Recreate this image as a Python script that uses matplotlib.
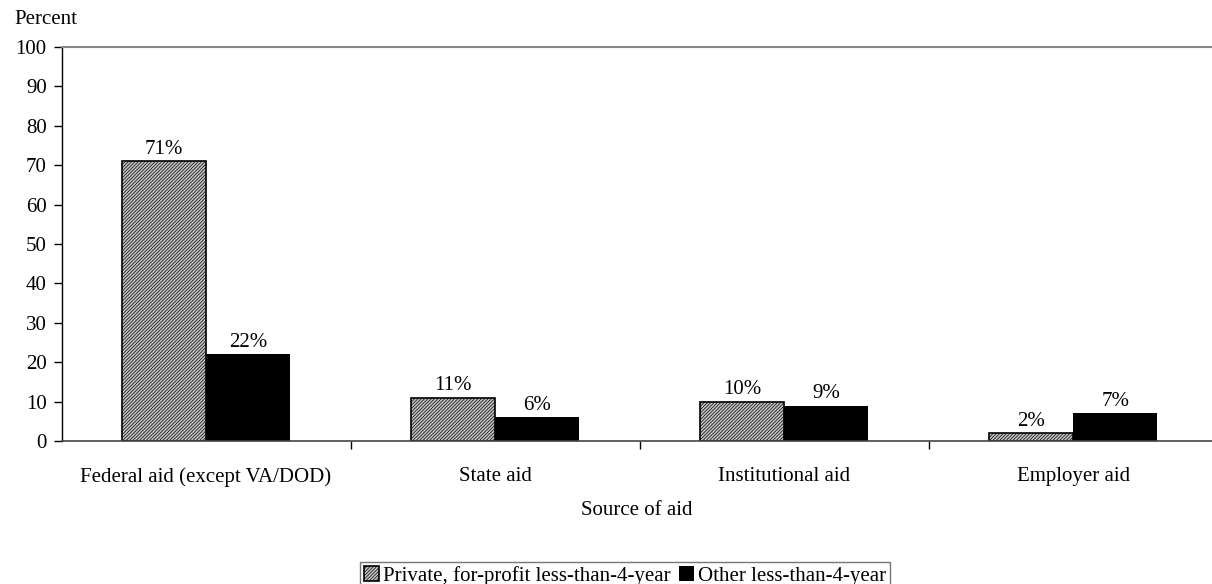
#!/usr/bin/env python3

import numpy as np
from matplotlib import pyplot as plt

# Data
Categories = ["Federal aid (except VA/DOD)", "State aid", "Institutional aid", "Employer aid"]
ForProfit = [71, 11, 10, 2]
Other = [22, 6, 9, 7]
SeriesNames = ["Private, for-profit less-than-4-year", "Other less-than-4-year"]
YTicks = [0, 10, 20, 30, 40, 50, 60, 70, 80, 90, 100]


def main():
    plt.rcParams['font.family'] = ['Liberation Serif', 'DejaVu Serif']
    plt.rcParams['hatch.color'] = '#666666'
    plt.rcParams['hatch.linewidth'] = 0.5

    PositionsX = np.arange(len(Categories))
    Width = 0.29
    FontSize = 15

    fig = plt.figure(figsize=(12.12, 5.84), dpi=100)
    ax = fig.add_axes([62 / 1212, 1 - 441 / 584, 1150 / 1212, 394 / 584])

    # Bars
    Bars1 = ax.bar(PositionsX - Width / 2, ForProfit, Width, facecolor='#c4c4c4',
                   edgecolor='black', linewidth=1.2, hatch='//////////',
                   label=SeriesNames[0])
    Bars2 = ax.bar(PositionsX + Width / 2, Other, Width, color='black',
                   label=SeriesNames[1])

    # Value labels
    for Bars, Values in [(Bars1, ForProfit), (Bars2, Other)]:
        for Bar, Value in zip(Bars, Values):
            ax.text(Bar.get_x() + Bar.get_width() / 2, Value + 0.6, f'{Value}%',
                    ha='center', va='bottom', fontsize=FontSize)

    # Axes
    ax.set_xlim(-0.498, 3.48)
    ax.set_ylim(0, 100)
    ax.set_yticks(YTicks)
    ax.tick_params(axis='y', labelsize=FontSize, length=6, width=1, pad=5)
    ax.set_xticks(PositionsX, Categories)
    ax.set_xticks(PositionsX[:-1] + 0.5, minor=True)
    ax.tick_params(axis='x', which='major', labelsize=FontSize, length=0, pad=19)
    ax.tick_params(axis='x', which='minor', length=6, width=1, direction='out')

    ax.spines['right'].set_visible(False)
    ax.spines['top'].set_color('#888888')
    ax.spines['top'].set_linewidth(1.5)
    ax.spines['left'].set_linewidth(1)
    ax.spines['bottom'].set_color('#444444')
    ax.spines['bottom'].set_linewidth(1.2)

    ax.set_xlabel('Source of aid', fontsize=FontSize, labelpad=10)
    fig.text(14 / 1212, 1 - 19 / 584, 'Percent', fontsize=FontSize, ha='left', va='center')

    fig.legend(loc='lower center', bbox_to_anchor=(625 / 1212, -0.01), ncol=2,
               fontsize=FontSize, frameon=True, fancybox=False, edgecolor='#555555',
               handlelength=0.7, handleheight=0.7, handletextpad=0.2,
               columnspacing=0.4, borderpad=0.2, borderaxespad=0)

    fig.savefig('out.png', dpi=100)


if __name__ == '__main__':
    main()
